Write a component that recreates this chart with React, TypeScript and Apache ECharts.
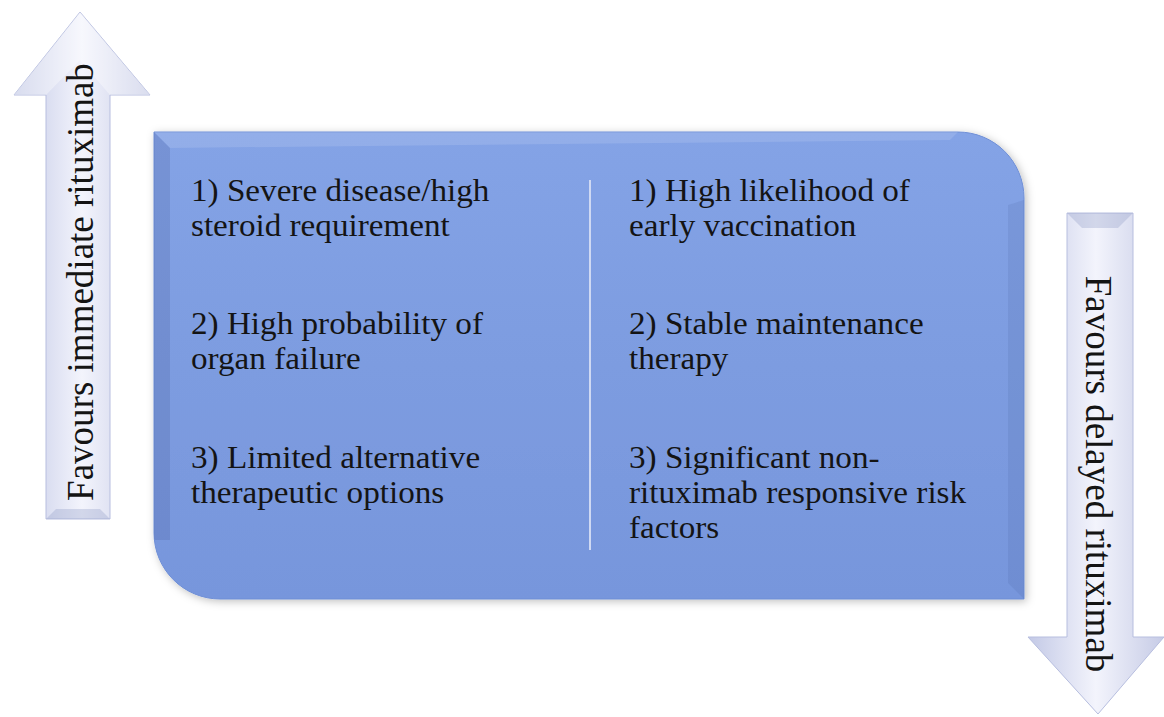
import React, { useEffect, useRef } from "react";
import * as echarts from "echarts";

const leftItems: string[][] = [
  ["1) Severe disease/high", "steroid requirement"],
  ["2) High probability of", "organ failure"],
  ["3) Limited alternative", "therapeutic options"],
];
const rightItems: string[][] = [
  ["1) High likelihood of", "early vaccination"],
  ["2) Stable maintenance", "therapy"],
  ["3) Significant non-", "rituximab responsive risk", "factors"],
];
const upLabel = "Favours immediate rituximab";
const downLabel = "Favours delayed rituximab";
const itemRows = [190, 323, 457];

const FONT = "Liberation Serif";

export default function App() {
  const ref = useRef<HTMLDivElement>(null);
  useEffect(() => {
    if (!ref.current) return;
    const chart = echarts.init(ref.current, undefined, { renderer: "svg" });
    const mkArrowFill = () =>
      new echarts.graphic.LinearGradient(0, 0, 1, 0, [
        { offset: 0, color: "#c3c9e6" },
        { offset: 0.5, color: "#f3f4fc" },
        { offset: 1, color: "#c6cbe6" },
      ]);
    const boxFill = new echarts.graphic.LinearGradient(0, 0, 0, 1, [
      { offset: 0, color: "#84a3e6" },
      { offset: 0.5, color: "#7d9ce0" },
      { offset: 1, color: "#7796dc" },
    ]);

    const textStyle = (t: string, align: string, size: number) => ({
      text: t,
      fontFamily: FONT,
      fontSize: size,
      fill: "#141414",
      align,
      verticalAlign: "middle",
    });

    const texts: any[] = [];
    const addCol = (items: string[][], x: number) => {
      items.forEach((lines, i) => {
        lines.forEach((ln, j) => {
          texts.push({
            type: "text",
            x,
            y: itemRows[i] + j * 35,
            scaleX: 1.07,
            style: textStyle(ln, "left", 31),
          });
        });
      });
    };
    addCol(leftItems, 191);
    addCol(rightItems, 629);

    chart.setOption({
      animation: false,
      backgroundColor: "#ffffff",
      graphic: [
        {
          type: "polygon",
          shape: {
            points: [
              [80, 12],
              [150, 95],
              [110, 95],
              [110, 519],
              [46, 519],
              [46, 95],
              [14, 95],
            ],
          },
          style: { fill: mkArrowFill(), stroke: "#b7bedf", lineWidth: 1 },
        },
        {
          type: "polygon",
          shape: { points: [[80, 12], [150, 95], [110, 95], [80, 60], [46, 95], [14, 95]] },
          style: { fill: "rgba(255,255,255,0.35)" },
        },
        {
          type: "polygon",
          shape: { points: [[46, 519], [110, 519], [100, 509], [56, 509]] },
          style: { fill: "rgba(150,160,200,0.35)" },
        },
        {
          type: "polygon",
          shape: {
            points: [
              [1067, 213],
              [1133, 213],
              [1133, 637],
              [1164, 637],
              [1098, 714],
              [1028, 637],
              [1067, 637],
            ],
          },
          style: { fill: mkArrowFill(), stroke: "#b7bedf", lineWidth: 1 },
        },
        {
          type: "polygon",
          shape: { points: [[1067, 213], [1133, 213], [1118, 228], [1082, 228]] },
          style: { fill: "rgba(150,160,200,0.35)" },
        },
        {
          type: "rect",
          shape: { x: 154, y: 132, width: 870, height: 467, r: [0, 66, 0, 66] },
          style: {
            fill: boxFill,
            stroke: "#6f8fd6",
            lineWidth: 1,
            shadowBlur: 8,
            shadowColor: "rgba(0,0,0,0.25)",
            shadowOffsetX: 2,
            shadowOffsetY: 2,
          },
        },
        {
          type: "polygon",
          shape: { points: [[154, 132], [170, 148], [170, 540], [154, 540]] },
          style: { fill: "rgba(60,80,140,0.18)" },
        },
        {
          type: "polygon",
          shape: { points: [[154, 132], [958, 132], [950, 140], [170, 148]] },
          style: { fill: "rgba(255,255,255,0.12)" },
        },
        {
          type: "polygon",
          shape: { points: [[1024, 200], [1024, 599], [1008, 583], [1008, 205]] },
          style: { fill: "rgba(60,80,140,0.12)" },
        },
        {
          type: "line",
          shape: { x1: 590, y1: 180, x2: 590, y2: 550 },
          style: { stroke: "#cfd9f3", lineWidth: 2 },
        },
        ...texts,
        {
          type: "text",
          x: 80,
          y: 282,
          rotation: Math.PI / 2,
          style: textStyle(upLabel, "center", 37),
        },
        {
          type: "text",
          x: 1098,
          y: 474,
          rotation: -Math.PI / 2,
          style: textStyle(downLabel, "center", 37),
        },
      ],
    });
    return () => chart.dispose();
  }, []);
  return (
    <div
      ref={ref}
      style={{ position: "fixed", left: 0, top: 0, width: 1164, height: 717 }}
    />
  );
}
